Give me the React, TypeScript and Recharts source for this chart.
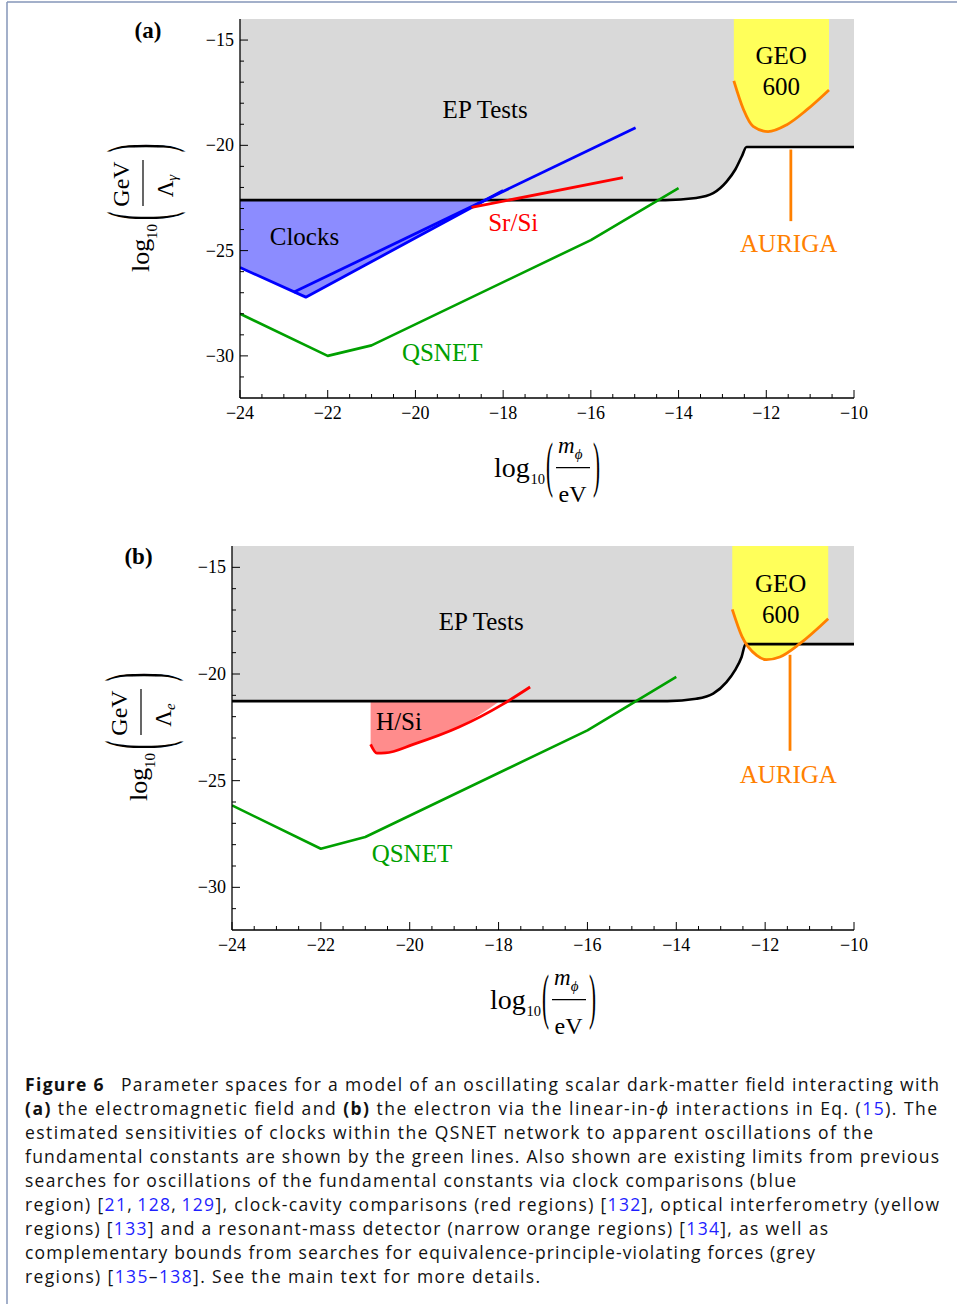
import React from 'react';
import { ComposedChart, Line, Area, XAxis, YAxis, ReferenceDot } from 'recharts';

type Pt = { x: number; y: number };

// ---------- axes ----------
const X_DOMAIN: [number, number] = [-24, -10];
const Y_DOMAIN: [number, number] = [-32, -14];
const X_MAJOR = [-24, -22, -20, -18, -16, -14, -12, -10];
const X_MINOR = [-23.5, -23, -22.5, -21.5, -21, -20.5, -19.5, -19, -18.5, -17.5, -17, -16.5, -15.5, -15, -14.5, -13.5, -13, -12.5, -11.5, -11, -10.5];
const Y_MAJOR = [-30, -25, -20, -15];
const Y_MINOR = [-31, -29, -28, -27, -26, -24, -23, -22, -21, -19, -18, -17, -16];

// ---------- panel (a): photon coupling ----------
const EP_A: Pt[] = [
  { x: -24, y: -22.6 }, { x: -14.3, y: -22.6 }, { x: -13.6, y: -22.5 }, { x: -13.21, y: -22.27 },
  { x: -12.9, y: -21.71 }, { x: -12.71, y: -21.16 }, { x: -12.56, y: -20.53 }, { x: -12.45, y: -20.08 },
  { x: -10, y: -20.08 },
];
const GEO_A: Pt[] = [
  { x: -12.74, y: -16.94 }, { x: -12.52, y: -18.3 }, { x: -12.3, y: -19.1 }, { x: -11.96, y: -19.35 },
  { x: -11.54, y: -19.03 }, { x: -11.08, y: -18.32 }, { x: -10.57, y: -17.37 },
];
const AURIGA_A: Pt[] = [{ x: -11.44, y: -20.2 }, { x: -11.44, y: -23.6 }];
const CLOCKS_LOW_A: Pt[] = [{ x: -24, y: -25.8 }, { x: -22.5, y: -27.21 }, { x: -18.0, y: -22.15 }];
const CLOCKS_HIGH_A: Pt[] = [{ x: -22.78, y: -26.98 }, { x: -14.98, y: -19.16 }];
const CLOCKS_BOUND_A: Pt[] = [{ x: -24, y: -25.8 }, { x: -22.5, y: -27.21 }, { x: -18.42, y: -22.6 }];
const SRSI_A: Pt[] = [{ x: -18.72, y: -22.95 }, { x: -15.27, y: -21.53 }];
const QSNET_A: Pt[] = [{ x: -24, y: -28.0 }, { x: -22, y: -30.0 }, { x: -21, y: -29.5 }, { x: -16, y: -24.5 }, { x: -14, y: -22.03 }];
const LABELS_A = [
  { text: 'EP Tests', x: -18.41, y: -18.7, kind: 'ep' },
  { text: 'GEO', x: -11.66, y: -16.14, kind: 'ep' },
  { text: '600', x: -11.66, y: -17.61, kind: 'ep' },
  { text: 'Clocks', x: -22.53, y: -24.72, kind: 'ep' },
  { text: 'Sr/Si', x: -17.77, y: -24.05, kind: 'red' },
  { text: 'QSNET', x: -19.39, y: -30.25, kind: 'green' },
  { text: 'AURIGA', x: -11.49, y: -25.06, kind: 'orange' },
];

// ---------- panel (b): electron coupling ----------
const EP_B: Pt[] = [
  { x: -24, y: -21.27 }, { x: -14.2, y: -21.27 }, { x: -13.55, y: -21.16 }, { x: -13.17, y: -20.92 },
  { x: -12.87, y: -20.38 }, { x: -12.68, y: -19.83 }, { x: -12.53, y: -19.2 }, { x: -12.44, y: -18.6 },
  { x: -10, y: -18.6 },
];
const GEO_B: Pt[] = [
  { x: -12.74, y: -16.97 }, { x: -12.52, y: -18.25 }, { x: -12.19, y: -19.13 }, { x: -11.97, y: -19.33 },
  { x: -11.67, y: -19.2 }, { x: -11.22, y: -18.58 }, { x: -10.58, y: -17.41 },
];
const AURIGA_B: Pt[] = [{ x: -11.44, y: -19.1 }, { x: -11.44, y: -23.6 }];
const HSI_B: Pt[] = [
  { x: -20.88, y: -23.3 }, { x: -20.74, y: -23.71 }, { x: -20.55, y: -23.7 }, { x: -19.92, y: -23.3 },
  { x: -18.9, y: -22.5 }, { x: -17.89, y: -21.4 }, { x: -17.29, y: -20.61 },
];
const HSI_BOUND_B: Pt[] = [
  { x: -20.88, y: -23.3 }, { x: -20.74, y: -23.71 }, { x: -20.55, y: -23.7 }, { x: -19.92, y: -23.3 },
  { x: -18.9, y: -22.5 }, { x: -17.97, y: -21.27 },
];
const QSNET_B: Pt[] = [{ x: -24, y: -26.16 }, { x: -22, y: -28.19 }, { x: -21, y: -27.64 }, { x: -16, y: -22.64 }, { x: -14, y: -20.14 }];
const LABELS_B = [
  { text: 'EP Tests', x: -18.39, y: -17.95, kind: 'ep' },
  { text: 'GEO', x: -11.65, y: -16.16, kind: 'ep' },
  { text: '600', x: -11.65, y: -17.61, kind: 'ep' },
  { text: 'H/Si', x: -20.24, y: -22.64, kind: 'ep' },
  { text: 'QSNET', x: -19.95, y: -28.82, kind: 'green' },
  { text: 'AURIGA', x: -11.48, y: -25.09, kind: 'orange' },
];

// ---------- styling ----------
const SERIF = '"Liberation Serif", "Times New Roman", serif';
const C = {
  grey: '#d9d9d9', yellow: '#ffff5a', lav: '#8c8cff', pink: '#ff8c8c',
  blue: '#0000ff', red: '#ff0000', green: '#00a000', orange: '#ff8000', black: '#000',
};
const LABEL_COLOR: Record<string, string> = { ep: '#000', red: C.red, green: C.green, orange: C.orange };
const X_TICKS = [...X_MAJOR, ...X_MINOR].sort((a, b) => a - b);
const Y_TICKS = [...Y_MAJOR, ...Y_MINOR].sort((a, b) => a - b);
const fmt = (v: number) => (v < 0 ? '\u2212' + Math.abs(v) : String(v));
const toRange = (pts: Pt[], top: number) => pts.map((p) => ({ x: p.x, range: [p.y, top] }));

const XTick = (props: any) => {
  const { x, y, payload } = props;
  const v = payload.value as number;
  const major = X_MAJOR.includes(v);
  return (
    <g>
      <line x1={x} x2={x} y1={y} y2={y - (major ? 8 : 4)} stroke="#000" strokeWidth={1} />
      {major && (
        <text x={x} y={y + 21} textAnchor="middle" fontFamily={SERIF} fontSize={18} fill="#000">{fmt(v)}</text>
      )}
    </g>
  );
};
const YTick = (props: any) => {
  const { x, y, payload } = props;
  const v = payload.value as number;
  const major = Y_MAJOR.includes(v);
  return (
    <g>
      <line x1={x} x2={x + (major ? 8 : 4)} y1={y} y2={y} stroke="#000" strokeWidth={1} />
      {major && (
        <text x={x - 6} y={y + 6} textAnchor="end" fontFamily={SERIF} fontSize={18} fill="#000">{fmt(v)}</text>
      )}
    </g>
  );
};

const line = (key: string, data: Pt[], color: string, w: number, type: any = 'linear') => (
  <Line key={key} data={data} dataKey="y" type={type} stroke={color} strokeWidth={w} dot={false}
    activeDot={false} isAnimationActive={false} strokeLinejoin="round" />
);
const fill = (key: string, data: Pt[], top: number, color: string, type: any = 'linear') => (
  <Area key={key} data={toRange(data, top)} dataKey="range" type={type} fill={color} fillOpacity={1}
    stroke="none" isAnimationActive={false} activeDot={false} dot={false} />
);
const labels = (list: { text: string; x: number; y: number; kind: string }[]) =>
  list.map((l, i) => (
    <ReferenceDot key={'lab' + i} x={l.x} y={l.y} r={0} ifOverflow="visible"
      shape={(p: any) => (
        <text x={p.cx} y={p.cy} textAnchor="middle" fontFamily={SERIF} fontSize={25} fill={LABEL_COLOR[l.kind]}>{l.text}</text>
      )} />
  ));

const axes = () => [
  <XAxis key="xb" type="number" dataKey="x" domain={X_DOMAIN} ticks={X_TICKS} interval={0} tick={<XTick />}
    tickLine={false} tickSize={0} tickMargin={0} height={30} allowDataOverflow axisLine={{ stroke: '#000', strokeWidth: 1.3 }} />,
  <YAxis key="yl" type="number" domain={Y_DOMAIN} ticks={Y_TICKS} interval={0} tick={<YTick />}
    tickLine={false} tickSize={0} tickMargin={0} width={60} allowDataOverflow axisLine={{ stroke: '#000', strokeWidth: 1.3 }} />,
  <XAxis key="xt" xAxisId="top" orientation="top" type="number" domain={X_DOMAIN} height={0} tick={false}
    tickLine={false} allowDataOverflow axisLine={{ stroke: '#6f6f6f', strokeWidth: 1.3 }} />,
  <YAxis key="yr" yAxisId="right" orientation="right" type="number" domain={Y_DOMAIN} width={0} tick={false}
    tickLine={false} allowDataOverflow axisLine={{ stroke: '#6f6f6f', strokeWidth: 1.3 }} />,
];

function PanelA() {
  return (
    <ComposedChart width={957} height={440} margin={{ top: 19, right: 103, bottom: 12, left: 180 }}>
      {fill('epf', EP_A, Y_DOMAIN[1], C.grey, 'monotone')}
      {fill('geof', GEO_A, Y_DOMAIN[1], C.yellow, 'monotone')}
      {fill('clkf', CLOCKS_BOUND_A, EP_A[0].y, C.lav)}
      {line('ep', EP_A, C.black, 2.6, 'monotone')}
      {line('clk1', CLOCKS_LOW_A, C.blue, 2.8)}
      {line('clk2', CLOCKS_HIGH_A, C.blue, 2.8)}
      {line('srsi', SRSI_A, C.red, 2.8)}
      {line('qs', QSNET_A, C.green, 2.6)}
      {line('geo', GEO_A, C.orange, 2.8, 'monotone')}
      {line('aur', AURIGA_A, C.orange, 2.8)}
      {axes()}
      {labels(LABELS_A)}
    </ComposedChart>
  );
}

function PanelB() {
  return (
    <ComposedChart width={957} height={440} margin={{ top: 16, right: 103, bottom: 10, left: 172 }}>
      {fill('epf', EP_B, Y_DOMAIN[1], C.grey, 'monotone')}
      {fill('geof', GEO_B, Y_DOMAIN[1], C.yellow, 'monotone')}
      {fill('hsif', HSI_BOUND_B, EP_B[0].y, C.pink, 'monotone')}
      {line('ep', EP_B, C.black, 2.6, 'monotone')}
      {line('hsi', HSI_B, C.red, 2.8, 'monotone')}
      {line('qs', QSNET_B, C.green, 2.6)}
      {line('geo', GEO_B, C.orange, 2.8, 'monotone')}
      {line('aur', AURIGA_B, C.orange, 2.8)}
      {axes()}
      {labels(LABELS_B)}
    </ComposedChart>
  );
}

function YMath({ cx, cy, sub }: { cx: number; cy: number; sub: string }) {
  return (
    <g transform={`translate(${cx},${cy}) rotate(-90)`} fontFamily={SERIF} fill="#000">
      <text x={-82} y={4} fontSize={26}>log</text>
      <text x={-49} y={12} fontSize={15}>10</text>
      <text transform="translate(-26,22) scale(0.3,1)" fontSize={87} textAnchor="middle">(</text>
      <text x={6} y={-16} fontSize={24} textAnchor="middle">GeV</text>
      <line x1={-16} x2={30} y1={-2} y2={-2} stroke="#000" strokeWidth={1.2} />
      <text x={4} y={28} fontSize={23} textAnchor="middle">Λ<tspan fontSize={15} fontStyle="italic" dy={4}>{sub}</tspan></text>
      <text transform="translate(42,22) scale(0.3,1)" fontSize={87} textAnchor="middle">)</text>
    </g>
  );
}

function XMath({ x0, y0 }: { x0: number; y0: number }) {
  return (
    <g transform={`translate(${x0},${y0})`} fontFamily={SERIF} fill="#000">
      <text x={0} y={0} fontSize={28}>log</text>
      <text x={36.5} y={7} fontSize={14.5}>10</text>
      <text transform="translate(55.5,8) scale(0.34,1)" fontSize={62} textAnchor="middle">(</text>
      <text x={64} y={-24} fontSize={23} fontStyle="italic">m<tspan fontSize={15} dy={6}>ϕ</tspan></text>
      <line x1={62} x2={96} y1={-9.3} y2={-9.3} stroke="#000" strokeWidth={1.2} />
      <text x={78.5} y={24.5} fontSize={24} textAnchor="middle">eV</text>
      <text transform="translate(102.5,8) scale(0.34,1)" fontSize={62} textAnchor="middle">)</text>
    </g>
  );
}

type Seg = { t: string; b?: boolean; c?: boolean; i?: boolean; dx?: number };
const CAPTION: { segs: Seg[]; w?: number }[] = [
  { segs: [{ t: 'Figure 6', b: true }, { t: 'Parameter spaces for a model of an oscillating scalar dark-matter field interacting with', dx: 16 }], w: 914 },
  { segs: [{ t: '(a)', b: true }, { t: ' the electromagnetic field and ' }, { t: '(b)', b: true }, { t: ' the electron via the linear-in-' }, { t: 'ϕ', i: true }, { t: ' interactions in Eq. (' }, { t: '15', c: true }, { t: '). The' }], w: 912 },
  { segs: [{ t: 'estimated sensitivities of clocks within the QSNET network to apparent oscillations of the' }], w: 848 },
  { segs: [{ t: 'fundamental constants are shown by the green lines. Also shown are existing limits from previous' }], w: 914 },
  { segs: [{ t: 'searches for oscillations of the fundamental constants via clock comparisons (blue' }], w: 771 },
  { segs: [{ t: 'region) [' }, { t: '21', c: true }, { t: ',\u2009' }, { t: '128', c: true }, { t: ',\u2009' }, { t: '129', c: true }, { t: '], clock-cavity comparisons (red regions) [' }, { t: '132', c: true }, { t: '], optical interferometry (yellow' }], w: 914 },
  { segs: [{ t: 'regions) [' }, { t: '133', c: true }, { t: '] and a resonant-mass detector (narrow orange regions) [' }, { t: '134', c: true }, { t: '], as well as' }], w: 803 },
  { segs: [{ t: 'complementary bounds from searches for equivalence-principle-violating forces (grey' }], w: 790 },
  { segs: [{ t: 'regions) [' }, { t: '135', c: true }, { t: '–' }, { t: '138', c: true }, { t: ']. See the main text for more details.' }], w: 515 },
];

function Overlay() {
  return (
    <svg width={957} height={1304} style={{ position: 'absolute', left: 0, top: 0, pointerEvents: 'none' }}>
      <line x1={7} y1={2} x2={957} y2={2} stroke="#8596b8" strokeWidth={1.5} />
      <line x1={7} y1={2} x2={7} y2={1304} stroke="#8596b8" strokeWidth={1.5} />
      <text x={148} y={38} textAnchor="middle" fontFamily={SERIF} fontWeight="bold" fontSize={23}>(a)</text>
      <text x={138.5} y={564} textAnchor="middle" fontFamily={SERIF} fontWeight="bold" fontSize={23}>(b)</text>
      <YMath cx={145} cy={190} sub="γ" />
      <YMath cx={143} cy={719} sub="e" />
      <XMath x0={494} y0={477} />
      <XMath x0={490} y0={1009} />
      {CAPTION.map((ln, i) => (
        <text key={i} x={25} y={1091 + i * 24} fontFamily='"Open Sans", "Noto Sans", sans-serif' fontSize={17.5}
          fill="#111" textLength={ln.w} lengthAdjust="spacing" style={{ whiteSpace: 'pre' }}>
          {ln.segs.map((s, j) => (
            <tspan key={j} dx={s.dx} fontWeight={s.b ? 'bold' : undefined} fontStyle={s.i ? 'italic' : undefined}
              fill={s.c ? '#1f1fff' : undefined}>{s.t}</tspan>
          ))}
        </text>
      ))}
    </svg>
  );
}

export default function App() {
  return (
    <div style={{ position: 'absolute', left: 0, top: 0, width: 957, height: 1304, background: '#fff', overflow: 'hidden' }}>
      <div style={{ position: 'absolute', left: 0, top: 0 }}>
        <PanelA />
      </div>
      <div style={{ position: 'absolute', left: 0, top: 530 }}>
        <PanelB />
      </div>
      <Overlay />
    </div>
  );
}
